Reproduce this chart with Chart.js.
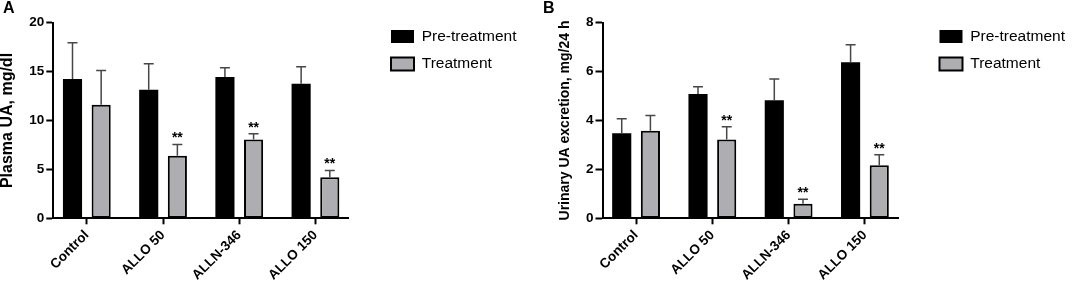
<!DOCTYPE html>
<html><head><meta charset="utf-8">
<script src="https://cdn.jsdelivr.net/npm/chart.js@4.4.1/dist/chart.umd.min.js"></script>
<style>
html,body{margin:0;padding:0;background:#fff;}
#wrap{position:relative;width:1073px;height:290px;overflow:hidden;font-family:"Liberation Sans",Arial,sans-serif;}
canvas{position:absolute;top:0;}
.panel{position:absolute;font-weight:bold;font-size:16px;line-height:16px;color:#000;}
</style></head><body>
<div id="wrap">
<canvas id="cA" width="540" height="290" style="left:0px"></canvas>
<canvas id="cB" width="535" height="290" style="left:540px"></canvas>
<div class="panel" style="left:3px;top:0px">A</div>
<div class="panel" style="left:543px;top:0px">B</div>
</div>
<script>
const categories = ['Control', 'ALLO 50', 'ALLN-346', 'ALLO 150'];
const seriesNames = ['Pre-treatment', 'Treatment'];

const plasmaPre = [14.25, 13.15, 14.45, 13.75];
const plasmaPreSD = [3.7, 2.65, 0.95, 1.75];
const plasmaTreat = [11.6, 6.4, 8.05, 4.2];
const plasmaTreatSD = [3.5, 1.15, 0.6, 0.7];
const plasmaSig = ['', '**', '**', '**'];
const plasmaTicks = [0, 5, 10, 15, 20];

const urinePre = [3.48, 5.08, 4.83, 6.38];
const urinePreSD = [0.59, 0.30, 0.87, 0.72];
const urineTreat = [3.58, 3.22, 0.60, 2.17];
const urineTreatSD = [0.62, 0.52, 0.18, 0.43];
const urineSig = ['', '**', '**', '**'];
const urineTicks = [0, 2, 4, 6, 8];

const FONT = '"Liberation Sans", Arial, sans-serif';

const errorBarPlugin = {
  id: 'errbars',
  afterDatasetsDraw(chart) {
    const ctx = chart.ctx;
    const y = chart.scales.y;
    chart.data.datasets.forEach((ds, di) => {
      const meta = chart.getDatasetMeta(di);
      meta.data.forEach((bar, i) => {
        const top = ds.data[i].y + ds.sd[i];
        const py = y.getPixelForValue(top);
        ctx.save();
        ctx.strokeStyle = '#474747';
        ctx.lineWidth = 1.5;
        ctx.beginPath();
        ctx.moveTo(bar.x, bar.y);
        ctx.lineTo(bar.x, py);
        ctx.moveTo(bar.x - 5, py);
        ctx.lineTo(bar.x + 5, py);
        ctx.stroke();
        if (ds.sig && ds.sig[i]) {
          ctx.fillStyle = '#000';
          ctx.font = 'bold 14px ' + FONT;
          ctx.textAlign = 'center';
          ctx.textBaseline = 'alphabetic';
          ctx.fillText(ds.sig[i], bar.x, py - 2);
        }
        ctx.restore();
      });
    });
  }
};

const legendShift = {
  id: 'legendShift',
  afterLayout(chart) {
    const l = chart.legend;
    if (l) { l.top -= 6; l.bottom -= 6; }
  }
};

function build(canvas, o) {
  return new Chart(canvas, {
    type: 'bar',
    data: {
      datasets: [
        { label: seriesNames[0], data: o.pre.map((v, i) => ({ x: i, y: v })), sd: o.preSD,
          backgroundColor: '#000000', borderColor: '#000000', borderWidth: 0 },
        { label: seriesNames[1], data: o.treat.map((v, i) => ({ x: i, y: v })), sd: o.treatSD, sig: o.sig,
          backgroundColor: '#adadb2', borderColor: '#000000', borderWidth: 2, borderSkipped: false }
      ]
    },
    options: {
      responsive: false,
      animation: false,
      events: [],
      layout: { padding: { left: o.padL, right: o.padR, top: 22.7, bottom: 0 } },
      datasets: { bar: { categoryPercentage: 0.752, barPercentage: 0.667 } },
      plugins: {
        legend: {
          position: 'right', align: 'start', maxWidth: 260,
          labels: { boxWidth: 23, boxHeight: 13, padding: 12, color: '#000', font: { family: FONT, size: 15.5 } }
        },
        tooltip: { enabled: false }
      },
      scales: {
        x: {
          type: 'linear', min: -0.44, max: 3.44, offset: false,
          grid: { display: true, offset: false, drawOnChartArea: false, drawTicks: true, tickLength: 6, tickWidth: 2, tickColor: '#000' },
          border: { display: true, color: '#000', width: 2 },
          ticks: { stepSize: 1, includeBounds: false, autoSkip: false, minRotation: 45, maxRotation: 45, padding: 3,
                   color: '#000', font: { family: FONT, size: 13.5, weight: 'bold' },
                   callback: v => categories[v] },
          afterFit: s => { s.height = 71.7; }
        },
        y: {
          type: 'linear', position: 'left', min: 0, max: o.ticks[o.ticks.length - 1],
          afterBuildTicks: s => { s.ticks = o.ticks.map(v => ({ value: v })); },
          grid: { drawOnChartArea: false, tickLength: 7, tickWidth: 2, tickColor: '#000' },
          border: { color: '#000', width: 2 },
          ticks: { padding: 2, color: '#000', font: { family: FONT, size: 13.5, weight: 'bold' } },
          title: { display: true, text: o.title, color: '#000', padding: 0,
                   font: { family: FONT, size: o.titleSize, weight: 'bold', lineHeight: 1 } },
          afterFit: s => { s.width = o.yW; }
        },
        gap: {
          type: 'linear', position: 'right', display: true,
          grid: { display: false }, border: { display: false }, ticks: { display: false },
          afterFit: s => { s.width = o.gap; }
        }
      }
    },
    plugins: [errorBarPlugin, legendShift]
  });
}

build(document.getElementById('cA'), {
  pre: plasmaPre, preSD: plasmaPreSD, treat: plasmaTreat, treatSD: plasmaTreatSD, sig: plasmaSig,
  ticks: plasmaTicks, title: 'Plasma UA, mg/dl', titleSize: 16,
  padL: 0, padR: 13.5, yW: 53.3, gap: 30
});
build(document.getElementById('cB'), {
  pre: urinePre, preSD: urinePreSD, treat: urineTreat, treatSD: urineTreatSD, sig: urineSig,
  ticks: urineTicks, title: 'Urinary UA excretion, mg/24 h', titleSize: 14,
  padL: 18, padR: 0, yW: 44.5, gap: 29
});
</script>
</body></html>
